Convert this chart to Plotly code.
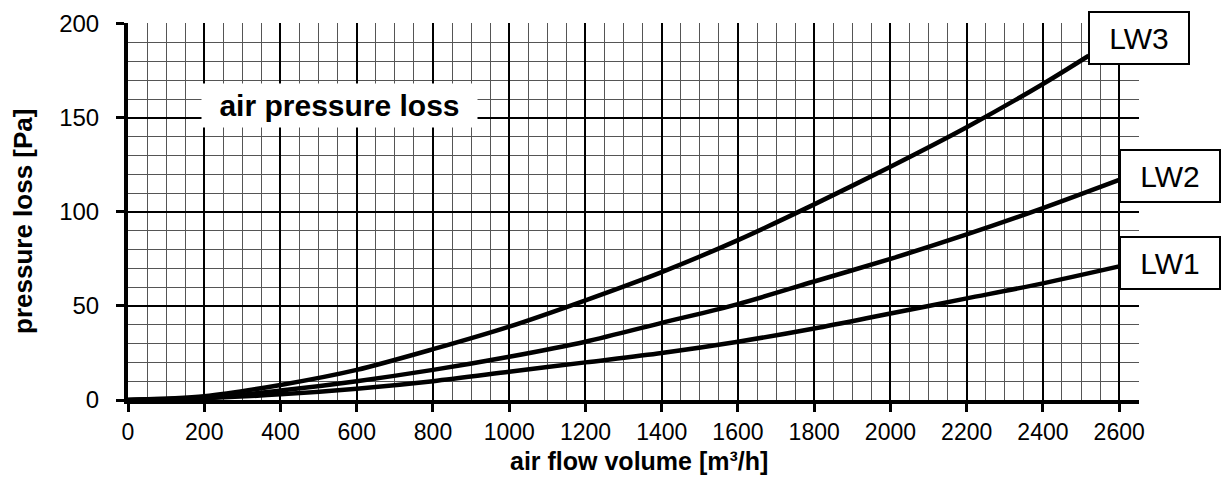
import plotly.graph_objects as go

airflow = [0, 200, 400, 600, 800, 1000, 1200, 1400, 1600, 1800, 2000, 2200, 2400, 2600]
lw1 = [0, 1, 3, 6, 10, 15, 20, 25, 31, 38, 46, 54, 62, 71]
lw2 = [0, 1, 5, 10, 16, 23, 31, 41, 51, 63, 75, 88, 102, 117]
airflow_lw3 = [0, 200, 400, 600, 800, 1000, 1200, 1400, 1600, 1800, 2000, 2200, 2400, 2520]
lw3 = [0, 2, 8, 16, 27, 39, 53, 68, 85, 104, 124, 145, 168, 183]

x_ticks = list(range(0, 2601, 200))
y_ticks = [0, 50, 100, 150, 200]

FONT = "Liberation Sans, Arial, sans-serif"

fig = go.Figure()
for xs, ys, name in [(airflow, lw1, "LW1"), (airflow, lw2, "LW2"), (airflow_lw3, lw3, "LW3")]:
    fig.add_trace(go.Scatter(x=xs, y=ys, mode="lines", name=name,
                             line=dict(color="black", width=4.5, shape="spline", smoothing=0.8),
                             showlegend=False, hoverinfo="skip"))

fig.update_xaxes(range=[0, 2652], tickvals=x_ticks, ticktext=[str(v) for v in x_ticks],
                 showgrid=True, gridcolor="black", gridwidth=2,
                 minor=dict(dtick=50, tick0=0, showgrid=True, gridcolor="#555555", gridwidth=1),
                 showline=True, linecolor="black", linewidth=4,
                 ticks="outside", ticklen=8, tickwidth=3, tickcolor="black",
                 tickfont=dict(family=FONT, size=23, color="black"),
                 ticklabelstandoff=0, zeroline=False, fixedrange=True)
fig.update_yaxes(range=[0, 200.4], tickvals=y_ticks,
                 showgrid=True, gridcolor="black", gridwidth=2,
                 minor=dict(dtick=10, tick0=0, showgrid=True, gridcolor="#555555", gridwidth=1),
                 showline=True, linecolor="black", linewidth=4,
                 ticks="outside", ticklen=8, tickwidth=3, tickcolor="black",
                 tickfont=dict(family=FONT, size=24, color="black"),
                 ticklabelstandoff=12, zeroline=False, fixedrange=True)

W, H = 1226, 479
ml, mr, mt, mb = 128, 87, 23, 79
pw, ph = W - ml - mr, H - mt - mb

annotations = [
    dict(x=556, y=156.5, xref="x", yref="y", text="<b>air pressure loss</b>", showarrow=False,
         xanchor="center", yanchor="middle",
         font=dict(family=FONT, size=30, color="black"), bgcolor="white",
         width=275, height=43, borderpad=0),
    dict(x=2519, y=192.5, xref="x", yref="y", text="LW3", showarrow=False, xanchor="left", yanchor="middle",
         font=dict(family=FONT, size=30, color="black"), bgcolor="white", bordercolor="black",
         borderwidth=2, borderpad=0, width=98, height=50),
    dict(x=2600, y=119.0, xref="x", yref="y", text="LW2", showarrow=False, xanchor="left", yanchor="middle",
         font=dict(family=FONT, size=30, color="black"), bgcolor="white", bordercolor="black",
         borderwidth=2, borderpad=0, width=98, height=50),
    dict(x=2600, y=72.9, xref="x", yref="y", text="LW1", showarrow=False, xanchor="left", yanchor="middle",
         font=dict(family=FONT, size=30, color="black"), bgcolor="white", bordercolor="black",
         borderwidth=2, borderpad=0, width=98, height=50),
    dict(x=(639 - ml) / pw * 2652, y=(H - mb - 461) / ph, xref="x", yref="paper",
         text="<b>air flow volume [m³/h]</b>", showarrow=False, xanchor="center", yanchor="middle",
         font=dict(family=FONT, size=25, color="black")),
    dict(x=(23 - ml) / pw, y=(H - mb - 222) / ph, xref="paper", yref="paper",
         text="<b>pressure loss [Pa]</b>", showarrow=False, xanchor="center", yanchor="middle",
         textangle=-90, font=dict(family=FONT, size=26, color="black")),
]

fig.update_layout(width=W, height=H, margin=dict(l=ml, r=mr, t=mt, b=mb, autoexpand=False),
                  plot_bgcolor="white", paper_bgcolor="white",
                  annotations=annotations, showlegend=False)

fig.write_html("out.html", config={"displayModeBar": False},
               post_script="document.body.style.margin='0';document.body.style.overflow='hidden';")
